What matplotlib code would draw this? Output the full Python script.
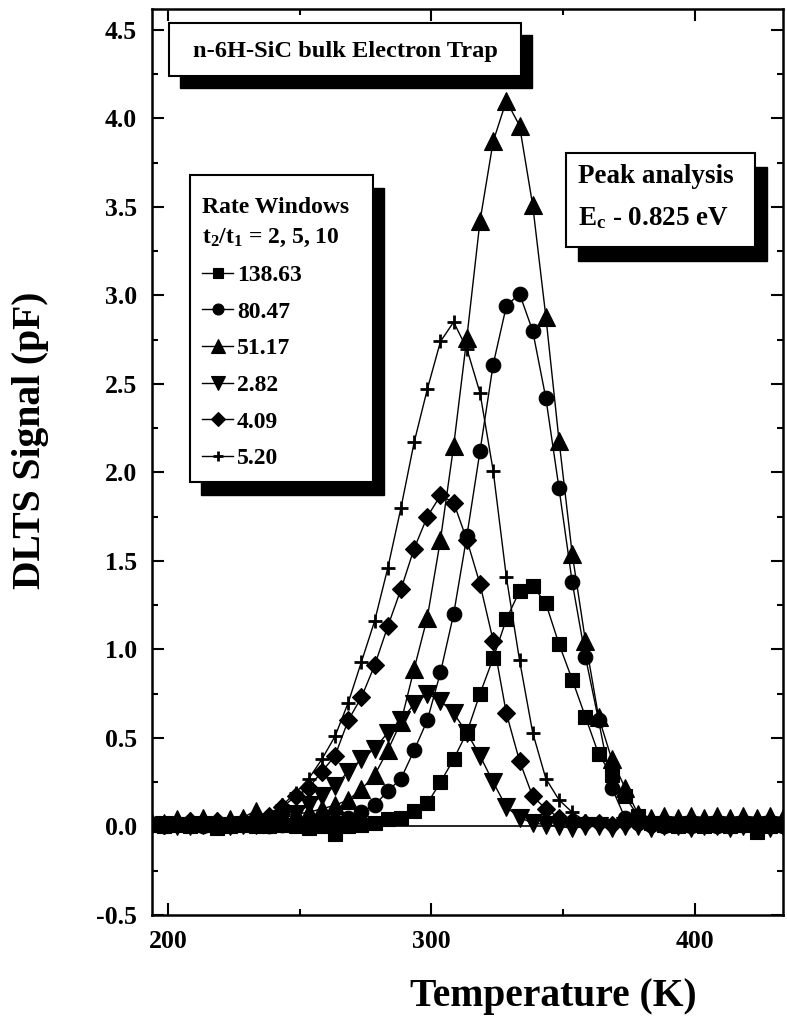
import matplotlib
matplotlib.use("Agg")
import matplotlib.pyplot as plt
from matplotlib.patches import Rectangle

# === Fonts ===
plt.rcParams['font.family'] = ['Liberation Serif', 'DejaVu Serif']
plt.rcParams['font.weight'] = 'bold'
plt.rcParams['mathtext.fontset'] = 'custom'
plt.rcParams['mathtext.rm'] = 'Liberation Serif:bold'
plt.rcParams['mathtext.bf'] = 'Liberation Serif:bold'
plt.rcParams['mathtext.it'] = 'Liberation Serif:bold:italic'

# === Data ===
temps = [193.5, 198.5, 203.5, 208.5, 213.5, 218.5, 223.5, 228.5, 233.5, 238.5,
         243.5, 248.5, 253.5, 258.5, 263.5, 268.5, 273.5, 278.5, 283.5, 288.5,
         293.5, 298.5, 303.5, 308.5, 313.5, 318.5, 323.5, 328.5, 333.5, 338.5,
         343.5, 348.5, 353.5, 358.5, 363.5, 368.5, 373.5, 378.5, 383.5, 388.5,
         393.5, 398.5, 403.5, 408.5, 413.5, 418.5, 423.5, 428.5, 433.5]

rw_138 = [0.01, 0.00, 0.01, 0.00, 0.01, -0.01, 0.00, 0.01, 0.00, 0.00,
          0.01, 0.00, -0.01, 0.00, -0.04, 0.00, 0.01, 0.02, 0.04, 0.05,
          0.09, 0.13, 0.25, 0.38, 0.53, 0.75, 0.95, 1.17, 1.33, 1.36,
          1.26, 1.03, 0.83, 0.62, 0.41, 0.29, 0.17, 0.06, 0.02, 0.01,
          0.00, 0.01, 0.00, 0.01, 0.00, 0.01, -0.03, 0.00, 0.01]
rw_80 = [0.01, 0.00, 0.01, 0.01, 0.00, 0.01, 0.00, 0.01, 0.01, 0.00,
         0.01, 0.01, 0.02, 0.02, 0.03, 0.05, 0.08, 0.12, 0.20, 0.27,
         0.43, 0.60, 0.87, 1.20, 1.64, 2.12, 2.61, 2.94, 3.01, 2.80,
         2.42, 1.91, 1.38, 0.96, 0.60, 0.22, 0.05, 0.02, 0.01, 0.00,
         0.01, 0.00, 0.01, 0.00, 0.00, 0.01, 0.00, 0.01, 0.00]
rw_51 = [0.03, 0.02, 0.04, 0.03, 0.05, 0.03, 0.04, 0.05, 0.09, 0.05,
         0.06, 0.07, 0.08, 0.10, 0.12, 0.15, 0.21, 0.29, 0.43, 0.59,
         0.89, 1.18, 1.62, 2.15, 2.76, 3.42, 3.87, 4.10, 3.96, 3.51,
         2.88, 2.18, 1.54, 1.05, 0.62, 0.38, 0.22, 0.07, 0.05, 0.06,
         0.05, 0.06, 0.05, 0.06, 0.05, 0.06, 0.05, 0.06, 0.05]
rw_282 = [0.00, 0.01, 0.00, 0.00, 0.01, 0.00, 0.00, 0.01, 0.01, 0.02,
          0.04, 0.07, 0.12, 0.17, 0.23, 0.31, 0.38, 0.44, 0.53, 0.60,
          0.69, 0.75, 0.71, 0.64, 0.53, 0.40, 0.25, 0.11, 0.05, 0.02,
          0.01, 0.00, -0.01, 0.00, 0.00, -0.01, 0.00, 0.00, -0.01, 0.00,
          0.00, -0.01, 0.00, 0.00, -0.01, 0.00, 0.00, -0.01, 0.00]
rw_409 = [0.02, 0.01, 0.02, 0.03, 0.02, 0.03, 0.02, 0.03, 0.03, 0.06,
          0.11, 0.17, 0.22, 0.31, 0.40, 0.60, 0.73, 0.91, 1.13, 1.34,
          1.57, 1.75, 1.87, 1.83, 1.62, 1.37, 1.05, 0.64, 0.37, 0.17,
          0.10, 0.05, 0.03, 0.02, 0.02, 0.01, 0.02, 0.02, 0.01, 0.02,
          0.02, 0.01, 0.02, 0.02, 0.01, 0.02, 0.02, 0.01, 0.02]
rw_520 = [0.01, 0.02, 0.01, 0.02, 0.01, 0.02, 0.02, 0.03, 0.04, 0.06,
          0.12, 0.19, 0.27, 0.38, 0.51, 0.70, 0.93, 1.16, 1.46, 1.80,
          2.17, 2.47, 2.74, 2.85, 2.70, 2.45, 2.01, 1.41, 0.94, 0.53,
          0.27, 0.15, 0.08, 0.03, 0.02, 0.01, 0.02, 0.01, 0.02, 0.01,
          0.02, 0.01, 0.02, 0.01, 0.02, 0.01, 0.02, 0.01, 0.02]

labels = ['138.63', '80.47', '51.17', '2.82', '4.09', '5.20']
series = [rw_138, rw_80, rw_51, rw_282, rw_409, rw_520]
markers = ['s', 'o', '^', 'v', 'D', '+']
msizes = [10, 10.5, 13, 13, 9, 9.5]

# === Figure ===
fig = plt.figure(figsize=(7.87, 10.19), dpi=100)
ax = fig.add_axes([0.1931, 0.1021, 0.8018, 0.8888])

handles = [None] * len(series)
# draw in reverse so squares / circles sit on top
for i in reversed(range(len(series))):
    mk = markers[i]
    (ln,) = ax.plot(temps, series[i], color='black', lw=1.0,
                    marker=mk, markersize=msizes[i],
                    markerfacecolor='black', markeredgecolor='black',
                    markeredgewidth=2.0 if mk == '+' else 0.8,
                    label=labels[i], zorder=3 + i * 0.1)
    handles[i] = ln

ax.axhline(0, color='black', lw=1.2, zorder=2)

ax.set_xlim(194, 433.5)
ax.set_ylim(-0.5, 4.617)
ax.set_xticks([200, 300, 400])
ax.set_xticks([250, 350], minor=True)
ax.set_yticks([-0.5, 0.0, 0.5, 1.0, 1.5, 2.0, 2.5, 3.0, 3.5, 4.0, 4.5])
ax.set_yticks([-0.25, 0.25, 0.75, 1.25, 1.75, 2.25, 2.75, 3.25, 3.75, 4.25], minor=True)
ax.set_yticklabels(['-0.5', '0.0', '0.5', '1.0', '1.5', '2.0', '2.5',
                    '3.0', '3.5', '4.0', '4.5'])

ax.tick_params(which='both', direction='in', top=True, right=True,
               labelsize=18.5, width=1.5, pad=11)
ax.tick_params(which='major', length=8.5)
ax.tick_params(which='minor', length=4.3)
for s in ax.spines.values():
    s.set_linewidth(1.8)

ax.set_xlabel('Temperature (K)', fontsize=28.5, fontweight='bold')
ax.xaxis.set_label_coords(0.636, -0.070)
ax.set_ylabel('DLTS Signal (pF)', fontsize=28.5, fontweight='bold')
ax.yaxis.set_label_coords(-0.163, 0.524)


def shadow_box(x0, y0, x1, y1, dx=0.017, dy=-0.013):
    ax.add_patch(Rectangle((x0 + dx, y0 + dy), x1 - x0, y1 - y0,
                           transform=ax.transAxes, facecolor='black',
                           edgecolor='black', zorder=6, clip_on=False))
    ax.add_patch(Rectangle((x0, y0), x1 - x0, y1 - y0,
                           transform=ax.transAxes, facecolor='white',
                           edgecolor='black', lw=1.5, zorder=7, clip_on=False))


# title box
shadow_box(0.027, 0.926, 0.585, 0.985)
ax.text(0.306, 0.9535, 'n-6H-SiC bulk Electron Trap', transform=ax.transAxes,
        ha='center', va='center', fontsize=17.6, zorder=8)

# peak analysis box
shadow_box(0.656, 0.7376, 0.955, 0.8413, dx=0.019, dy=-0.015)
ax.text(0.675, 0.815, 'Peak analysis', transform=ax.transAxes,
        ha='left', va='center', fontsize=19.5, zorder=8)
ax.text(0.675, 0.769, r'E$_\mathbf{c}$ - 0.825 eV', transform=ax.transAxes,
        ha='left', va='center', fontsize=19.5, zorder=8)

# legend box
shadow_box(0.060, 0.478, 0.350, 0.817, dx=0.018, dy=-0.014)
leg = ax.legend(handles=handles, labels=labels,
                title='Rate Windows\nt$_\\mathbf{2}$/t$_\\mathbf{1}$ = 2, 5, 10',
                title_fontproperties={'size': 17, 'weight': 'bold'},
                alignment='left', loc='upper left',
                bbox_to_anchor=(0.073, 0.797), borderaxespad=0, borderpad=0.15,
                frameon=False, fontsize=17, handlelength=1.35,
                handletextpad=0.15, labelspacing=0.64, markerscale=0.75)
leg.get_title().set_linespacing(1.6)
leg.set_zorder(10)

fig.savefig('out.png', dpi=100)
